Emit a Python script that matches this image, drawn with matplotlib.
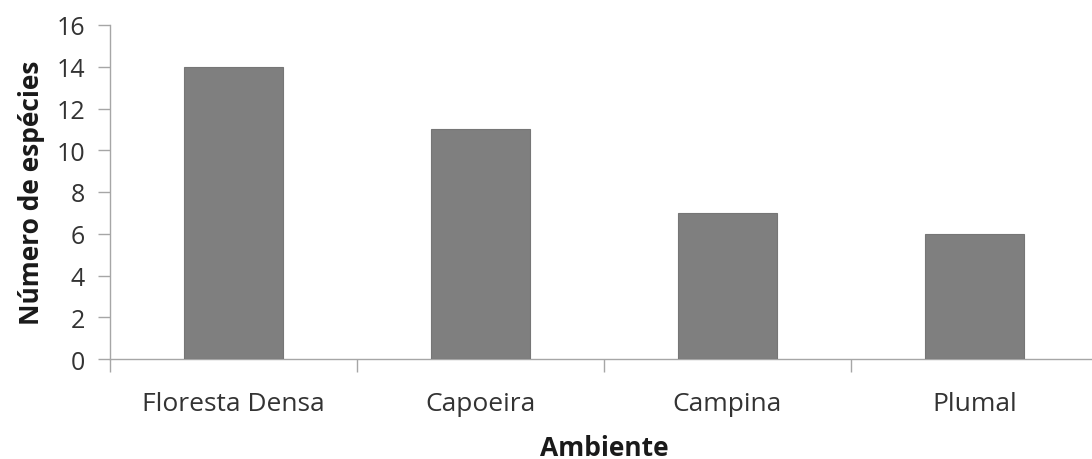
import matplotlib
matplotlib.use("Agg")
import matplotlib.pyplot as plt

ambientes = ["Floresta Densa", "Capoeira", "Campina", "Plumal"]
especies = [14, 11, 7, 6]
yticks = [0, 2, 4, 6, 8, 10, 12, 14, 16]

plt.rcParams["font.family"] = ["Open Sans", "DejaVu Sans"]

fig = plt.figure(figsize=(10.92, 4.6), dpi=100)
ax = fig.add_axes([110 / 1092, 1 - 360 / 460, 988 / 1092, 334 / 460])

x = list(range(len(ambientes)))
ax.bar(x, especies, width=0.4, color="#7f7f7f", edgecolor="#767676", linewidth=0.8, zorder=3)

ax.set_xlim(-0.5, len(ambientes) - 0.5)
ax.set_ylim(0, 16)
ax.set_yticks(yticks)
ax.set_yticklabels([str(v) for v in yticks])

# category labels centred on bars, tick marks on the category boundaries
ax.set_xticks(x)
ax.set_xticklabels(ambientes)
ax.set_xticks([i - 0.5 for i in range(len(ambientes) + 1)], minor=True)
ax.tick_params(axis="x", which="major", length=0, pad=23, labelsize=19, labelcolor="#333333")
ax.tick_params(axis="x", which="minor", length=9, width=1.0, color="#a6a6a6")
ax.tick_params(axis="y", length=9, width=1.0, color="#a6a6a6", pad=9, labelsize=18, labelcolor="#333333")

for side in ["top", "right"]:
    ax.spines[side].set_visible(False)
for side in ["left", "bottom"]:
    ax.spines[side].set_color("#a6a6a6")
    ax.spines[side].set_linewidth(1.0)

ax.set_xlabel("Ambiente", fontsize=19, fontweight="bold", labelpad=13, color="#1a1a1a")
ax.set_ylabel("Número de espécies", fontsize=19, fontweight="bold", labelpad=8, color="#1a1a1a")

fig.savefig("out.png", dpi=100)
